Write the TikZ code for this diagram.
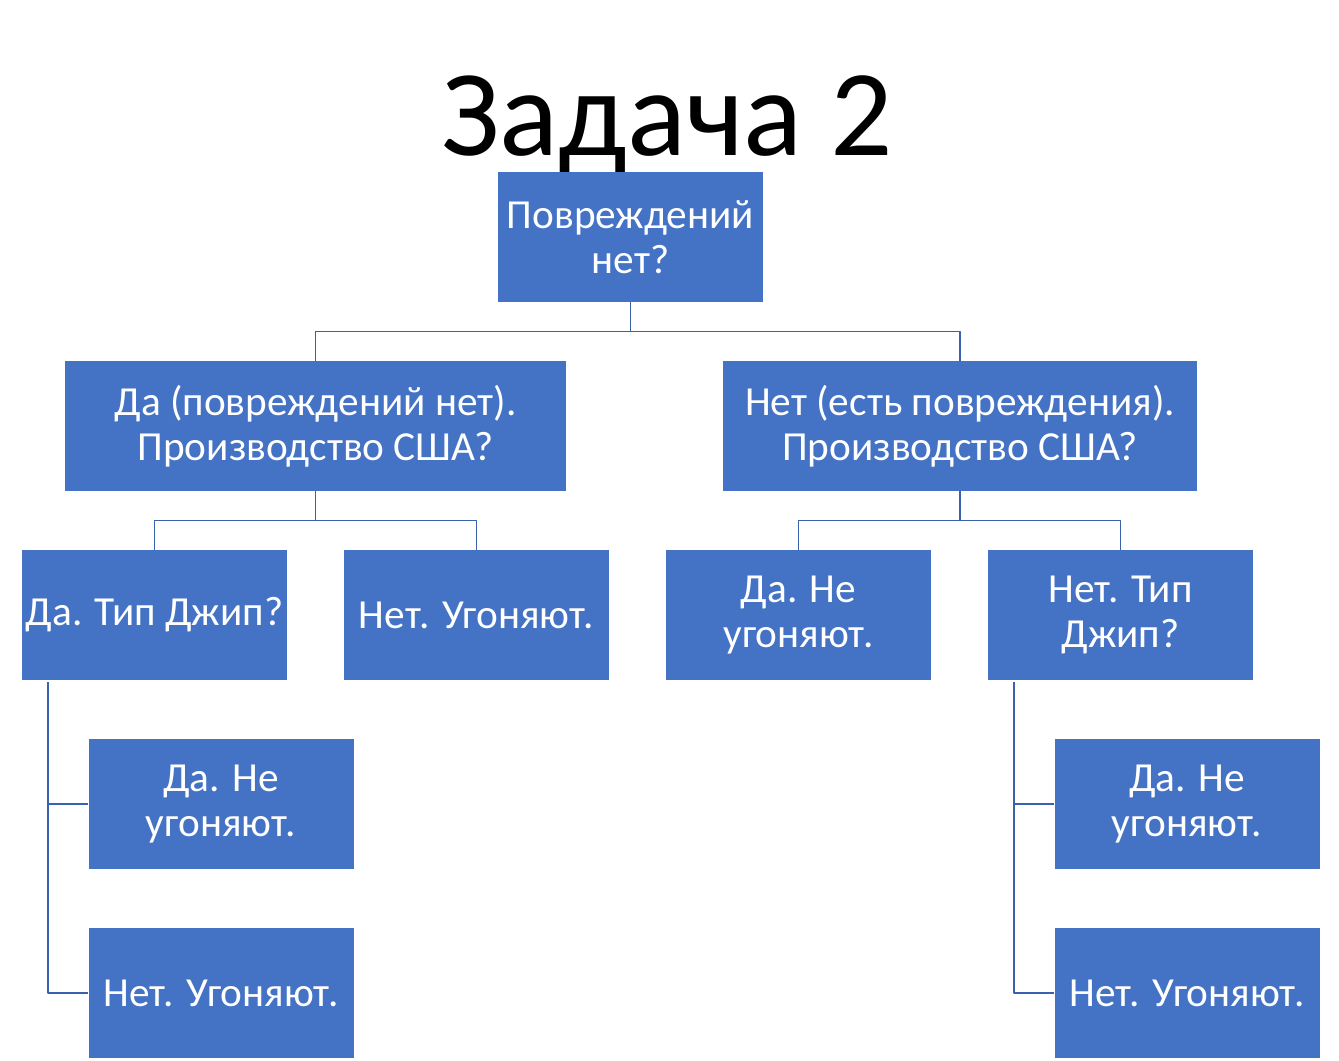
\documentclass[tikz,border=0pt]{standalone}
\usepackage{fontspec}
\setmainfont{Carlito}
\definecolor{boxblue}{HTML}{4472C4}
\definecolor{lineblue}{RGB}{58,98,172}
\begin{document}
\begin{tikzpicture}[x=0.02cm, y=-0.02cm, line join=round,
	box/.style={rectangle, fill=boxblue, text=white, inner sep=0pt, align=center,
		minimum width=265*0.02cm, minimum height=130*0.02cm,
		font=\fontsize{23.5}{25.6}\selectfont},
	conn/.style={draw=lineblue, line width=0.8pt}]
	\useasboundingbox (0,0) rectangle (1339,1061);
	
	% Заголовок
	\node[anchor=base, font=\fontsize{70}{80}\selectfont] (title) at (667,155) {Задача 2};
	
	% Корень
	\node[box] (root) at (630.5,237) {Повреждений\\нет?};
	
	% Первый уровень
	\node[box, minimum width=501*0.02cm] (da) at (315.5,426) {Да (повреждений нет).\\Производство США?};
	\node[box, minimum width=474*0.02cm] (net) at (960,426) {Нет (есть повреждения).\\Производство США?};
	
	% Второй уровень
	\node[box] (dajeep) at (154.5,615) {Да. Тип Джип?};
	\node[box] (dasteal) at (476.5,615) {Нет. Угоняют.};
	\node[box] (netnosteal) at (798.5,615) {Да. Не\\угоняют.};
	\node[box] (netjeep) at (1120.5,615) {Нет. Тип\\Джип?};
	
	% Третий уровень
	\node[box] (ljyes) at (221,804) {Да. Не\\угоняют.};
	\node[box] (ljno) at (221,993) {Нет. Угоняют.};
	\node[box] (rjyes) at (1187,804) {Да. Не\\угоняют.};
	\node[box] (rjno) at (1187,993) {Нет. Угоняют.};
	
	% Соединительные линии
	\draw[conn] (root.south) -- ++(0,29) -| (da.north);
	\draw[conn] (root.south) -- ++(0,29) -| (net.north);
	\draw[conn] (da.south) -- ++(0,29) -| (dajeep.north);
	\draw[conn] (da.south) -- ++(0,29) -| (dasteal.north);
	\draw[conn] (net.south) -- ++(0,29) -| (netnosteal.north);
	\draw[conn] (net.south) -- ++(0,29) -| (netjeep.north);
	
	\coordinate (lv) at (48,682);
	\coordinate (rv) at (1014,682);
	\draw[conn] (lv) |- (ljyes.west);
	\draw[conn] (lv) |- (ljno.west);
	\draw[conn] (rv) |- (rjyes.west);
	\draw[conn] (rv) |- (rjno.west);
\end{tikzpicture}
\end{document}
